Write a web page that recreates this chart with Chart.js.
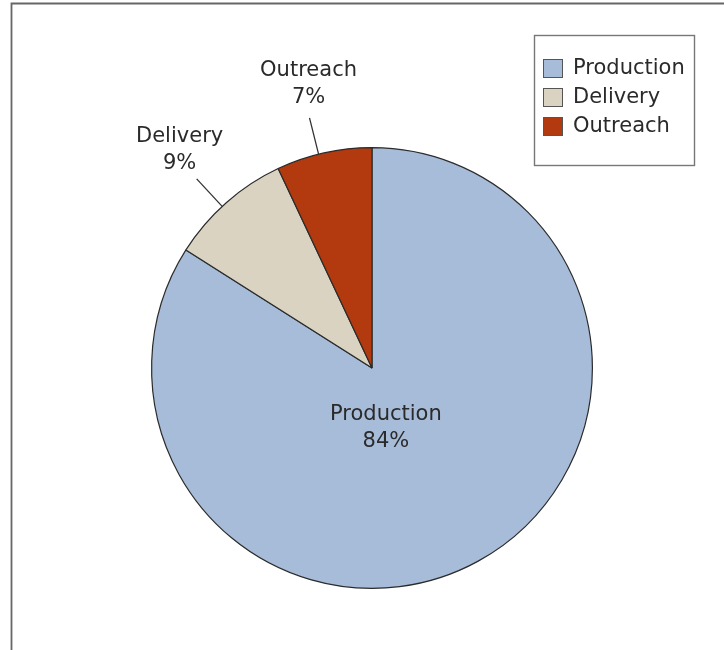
<!DOCTYPE html>
<html>
<head>
<meta charset="utf-8">
<script src="https://cdn.jsdelivr.net/npm/chart.js@4.4.0/dist/chart.umd.min.js"></script>
<style>
  html, body { margin: 0; padding: 0; background: #fff; }
  #wrap { width: 724px; height: 650px; position: relative; }
</style>
</head>
<body>
<div id="wrap"><canvas id="chartCostos" width="724" height="650"></canvas></div>
<script>
const categorias = ['Production', 'Delivery', 'Outreach'];
const porcentajes = [84, 9, 7];
const colores = ['#a7bcd9', '#dbd3c2', '#b23a0e'];

const FUENTE = '21px "DejaVu Sans", Verdana, sans-serif';
const TEXTO = '#2a2a2a';

// marco gris arriba y a la izquierda
const marcoPlugin = {
    id: 'marco',
    beforeDraw(chart) {
        const ctx = chart.ctx;
        ctx.save();
        ctx.strokeStyle = '#666';
        ctx.lineWidth = 1.8;
        ctx.beginPath();
        ctx.moveTo(11.5, chart.height);
        ctx.lineTo(11.5, 3.5);
        ctx.lineTo(chart.width, 3.5);
        ctx.stroke();
        ctx.restore();
    }
};

// etiquetas: la grande dentro, las pequeñas fuera con linea guia
const etiquetasPlugin = {
    id: 'etiquetas',
    afterDatasetsDraw(chart) {
        const ctx = chart.ctx;
        const meta = chart.getDatasetMeta(0);
        const datos = chart.data.datasets[0].data;
        ctx.save();
        ctx.font = FUENTE;
        ctx.fillStyle = TEXTO;
        ctx.textAlign = 'center';
        ctx.textBaseline = 'middle';
        meta.data.forEach((arco, i) => {
            const r = arco.outerRadius;
            const medio = (arco.startAngle + arco.endAngle) / 2;
            const texto = [chart.data.labels[i], datos[i] + '%'];
            if (datos[i] > 50) {
                const cx = arco.x + 0.063 * r;
                const cy = arco.y + 0.272 * r;
                ctx.fillText(texto[0], cx, cy - 13.5);
                ctx.fillText(texto[1], cx, cy + 13.5);
            } else {
                // linea guia un poco girada, como en el original
                const a = medio - 0.025;
                const lx = Math.cos(a), ly = Math.sin(a);
                ctx.strokeStyle = '#333';
                ctx.lineWidth = 1.3;
                ctx.beginPath();
                ctx.moveTo(arco.x + lx * r, arco.y + ly * r);
                ctx.lineTo(arco.x + lx * r * 1.17, arco.y + ly * r * 1.17);
                ctx.stroke();
                const tx = arco.x + Math.cos(medio) * r * 1.32;
                const ty = arco.y + Math.sin(medio) * r * 1.32;
                ctx.fillText(texto[0], tx, ty - 13.5);
                ctx.fillText(texto[1], tx, ty + 13.5);
            }
        });
        ctx.restore();
    }
};

// leyenda con caja, arriba a la derecha
const leyendaPlugin = {
    id: 'leyendaCaja',
    afterDraw(chart) {
        const ctx = chart.ctx;
        const x0 = 534.5, y0 = 35.5, w = 160, h = 130;
        ctx.save();
        ctx.fillStyle = '#fff';
        ctx.fillRect(x0, y0, w, h);
        ctx.strokeStyle = '#777';
        ctx.lineWidth = 1.4;
        ctx.strokeRect(x0, y0, w, h);
        ctx.font = FUENTE;
        ctx.textAlign = 'left';
        ctx.textBaseline = 'middle';
        chart.data.labels.forEach((nombre, i) => {
            const y = 59 + i * 29;
            ctx.fillStyle = chart.data.datasets[0].backgroundColor[i];
            ctx.fillRect(543.5, y + 0.5, 19, 18);
            ctx.strokeStyle = '#555';
            ctx.lineWidth = 1;
            ctx.strokeRect(543.5, y + 0.5, 19, 18);
            ctx.fillStyle = TEXTO;
            ctx.fillText(nombre, 573, y + 10);
        });
        ctx.restore();
    }
};

const canvas = document.getElementById('chartCostos');
const context = canvas.getContext('2d');

const chartCostos = new Chart(context, {
    type: 'pie',
    data: {
        labels: categorias,
        datasets: [{
            data: porcentajes,
            backgroundColor: colores,
            borderColor: '#2b2b2b',
            borderWidth: 1.2
        }]
    },
    options: {
        responsive: false,
        animation: false,
        layout: {
            padding: { left: 151, right: 131, top: 147, bottom: 61 }
        },
        plugins: {
            legend: { display: false },
            tooltip: { enabled: false }
        }
    },
    plugins: [marcoPlugin, etiquetasPlugin, leyendaPlugin]
});
</script>
</body>
</html>
